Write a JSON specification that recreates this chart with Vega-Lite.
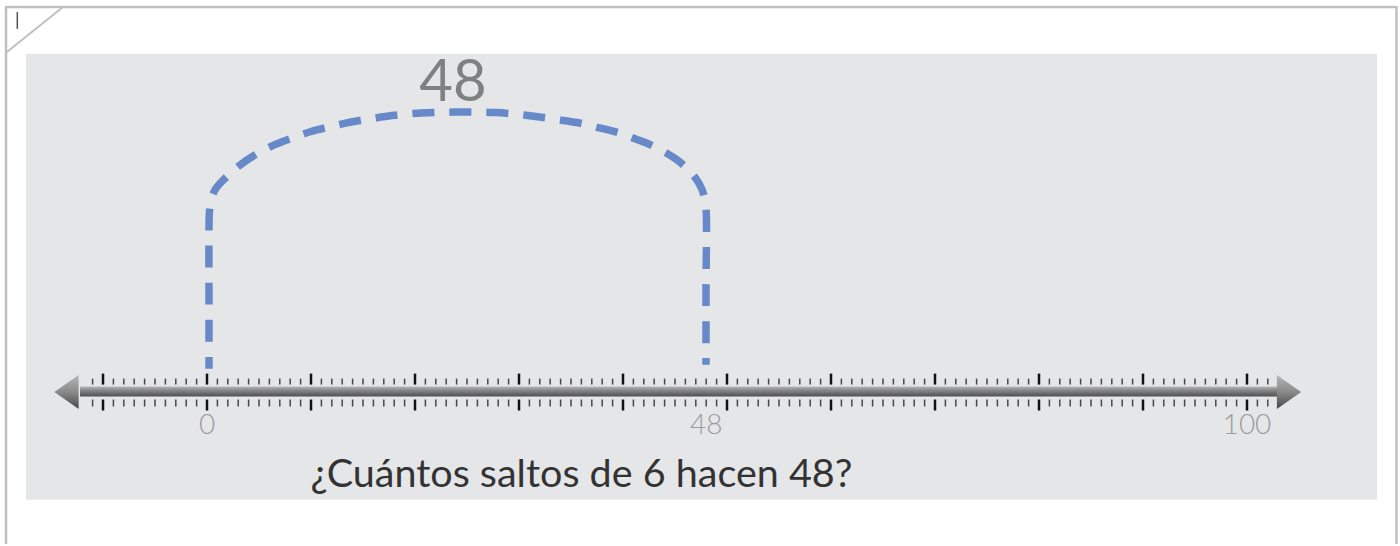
{
  "$schema": "https://vega.github.io/schema/vega-lite/v6.json",
  "width": 1400,
  "height": 546,
  "autosize": {"type": "fit", "contains": "padding"},
  "padding": 0,
  "background": "white",
  "config": {"view": {"stroke": null}},
  "datasets": {
    "minor": [
      {"v": -11}, {"v": -9}, {"v": -8}, {"v": -7}, {"v": -6}, {"v": -5}, {"v": -4}, {"v": -3}, {"v": -2}, {"v": -1},
      {"v": 1}, {"v": 2}, {"v": 3}, {"v": 4}, {"v": 5}, {"v": 6}, {"v": 7}, {"v": 8}, {"v": 9},
      {"v": 11}, {"v": 12}, {"v": 13}, {"v": 14}, {"v": 15}, {"v": 16}, {"v": 17}, {"v": 18}, {"v": 19},
      {"v": 21}, {"v": 22}, {"v": 23}, {"v": 24}, {"v": 25}, {"v": 26}, {"v": 27}, {"v": 28}, {"v": 29},
      {"v": 31}, {"v": 32}, {"v": 33}, {"v": 34}, {"v": 35}, {"v": 36}, {"v": 37}, {"v": 38}, {"v": 39},
      {"v": 41}, {"v": 42}, {"v": 43}, {"v": 44}, {"v": 45}, {"v": 46}, {"v": 47}, {"v": 48}, {"v": 49},
      {"v": 51}, {"v": 52}, {"v": 53}, {"v": 54}, {"v": 55}, {"v": 56}, {"v": 57}, {"v": 58}, {"v": 59},
      {"v": 61}, {"v": 62}, {"v": 63}, {"v": 64}, {"v": 65}, {"v": 66}, {"v": 67}, {"v": 68}, {"v": 69},
      {"v": 71}, {"v": 72}, {"v": 73}, {"v": 74}, {"v": 75}, {"v": 76}, {"v": 77}, {"v": 78}, {"v": 79},
      {"v": 81}, {"v": 82}, {"v": 83}, {"v": 84}, {"v": 85}, {"v": 86}, {"v": 87}, {"v": 88}, {"v": 89},
      {"v": 91}, {"v": 92}, {"v": 93}, {"v": 94}, {"v": 95}, {"v": 96}, {"v": 97}, {"v": 98}, {"v": 99},
      {"v": 101}, {"v": 102}
    ],
    "major": [
      {"v": -10}, {"v": 0}, {"v": 10}, {"v": 20}, {"v": 30}, {"v": 40}, {"v": 50}, {"v": 60}, {"v": 70}, {"v": 80}, {"v": 90}, {"v": 100}
    ],
    "labels": [
      {"v": 0, "t": "0"}, {"v": 48, "t": "48"}, {"v": 100, "t": "100"}
    ],
    "arc": [
      {"i": 0, "x": 0.192, "y": 24},
      {"i": 1, "x": 0.192, "y": 94},
      {"i": 2, "x": 0.192, "y": 164},
      {"i": 3, "x": 0.240, "y": 182},
      {"i": 4, "x": 0.433, "y": 195},
      {"i": 5, "x": 0.865, "y": 205},
      {"i": 6, "x": 1.538, "y": 213},
      {"i": 7, "x": 2.885, "y": 226},
      {"i": 8, "x": 4.519, "y": 238},
      {"i": 9, "x": 6.154, "y": 247},
      {"i": 10, "x": 8.077, "y": 255},
      {"i": 11, "x": 10.0, "y": 262},
      {"i": 12, "x": 11.923, "y": 267},
      {"i": 13, "x": 13.846, "y": 271.5},
      {"i": 14, "x": 15.865, "y": 275},
      {"i": 15, "x": 17.788, "y": 278},
      {"i": 16, "x": 19.808, "y": 280},
      {"i": 17, "x": 21.827, "y": 281},
      {"i": 18, "x": 23.75, "y": 281.5},
      {"i": 19, "x": 25.769, "y": 281.5},
      {"i": 20, "x": 27.692, "y": 281},
      {"i": 21, "x": 29.712, "y": 279.5},
      {"i": 22, "x": 31.635, "y": 277},
      {"i": 23, "x": 33.654, "y": 274},
      {"i": 24, "x": 35.577, "y": 271},
      {"i": 25, "x": 37.596, "y": 266},
      {"i": 26, "x": 39.519, "y": 261},
      {"i": 27, "x": 41.346, "y": 254},
      {"i": 28, "x": 43.173, "y": 246},
      {"i": 29, "x": 45.0, "y": 235},
      {"i": 30, "x": 46.442, "y": 222},
      {"i": 31, "x": 47.308, "y": 210},
      {"i": 32, "x": 47.788, "y": 198},
      {"i": 33, "x": 47.981, "y": 185},
      {"i": 34, "x": 47.981, "y": 104},
      {"i": 35, "x": 47.981, "y": 28}
    ]
  },
  "layer": [
    {
      "data": {"values": [{}]},
      "mark": {"type": "rect", "color": "#e5e6e8"},
      "encoding": {
        "x": {"datum": -17.404, "type": "quantitative", "scale": {"domain": [-19.904, 114.712], "nice": false, "zero": false}, "axis": null},
        "x2": {"datum": 112.5},
        "y": {"datum": 340, "type": "quantitative", "scale": {"domain": [-152, 394], "nice": false, "zero": false}, "axis": null},
        "y2": {"datum": -107.7}
      }
    },
    {
      "data": {"values": [{}]},
      "mark": {"type": "rule", "stroke": "#c0c0c0", "strokeWidth": 2.5},
      "encoding": {
        "x": {"datum": -19.327, "type": "quantitative", "scale": {"domain": [-19.904, 114.712], "nice": false, "zero": false}, "axis": null},
        "x2": {"datum": 114.375},
        "y": {"datum": 387, "type": "quantitative", "scale": {"domain": [-152, 394], "nice": false, "zero": false}, "axis": null},
        "y2": {"datum": 387}
      }
    },
    {
      "data": {"values": [{}]},
      "mark": {"type": "rule", "stroke": "#c0c0c0", "strokeWidth": 2.5},
      "encoding": {
        "x": {"datum": -19.327, "type": "quantitative", "scale": {"domain": [-19.904, 114.712], "nice": false, "zero": false}, "axis": null},
        "x2": {"datum": -19.327},
        "y": {"datum": 388, "type": "quantitative", "scale": {"domain": [-152, 394], "nice": false, "zero": false}, "axis": null},
        "y2": {"datum": -152}
      }
    },
    {
      "data": {"values": [{}]},
      "mark": {"type": "rule", "stroke": "#c0c0c0", "strokeWidth": 2.5},
      "encoding": {
        "x": {"datum": 114.375, "type": "quantitative", "scale": {"domain": [-19.904, 114.712], "nice": false, "zero": false}, "axis": null},
        "x2": {"datum": 114.375},
        "y": {"datum": 388, "type": "quantitative", "scale": {"domain": [-152, 394], "nice": false, "zero": false}, "axis": null},
        "y2": {"datum": -152}
      }
    },
    {
      "data": {"values": [{}]},
      "mark": {"type": "rule", "stroke": "#c0c0c0", "strokeWidth": 2},
      "encoding": {
        "x": {"datum": -19.327, "type": "quantitative", "scale": {"domain": [-19.904, 114.712], "nice": false, "zero": false}, "axis": null},
        "x2": {"datum": -13.846},
        "y": {"datum": 341, "type": "quantitative", "scale": {"domain": [-152, 394], "nice": false, "zero": false}, "axis": null},
        "y2": {"datum": 387}
      }
    },
    {
      "data": {"values": [{}]},
      "mark": {"type": "rule", "stroke": "#555555", "strokeWidth": 1.5},
      "encoding": {
        "x": {"datum": -18.24, "type": "quantitative", "scale": {"domain": [-19.904, 114.712], "nice": false, "zero": false}, "axis": null},
        "x2": {"datum": -18.24},
        "y": {"datum": 382, "type": "quantitative", "scale": {"domain": [-152, 394], "nice": false, "zero": false}, "axis": null},
        "y2": {"datum": 365}
      }
    },
    {
      "data": {"values": [{}]},
      "mark": {
        "type": "rect",
        "color": {"gradient": "linear", "x1": 0, "y1": 0, "x2": 0, "y2": 1,
          "stops": [{"offset": 0, "color": "#b8b8b8"}, {"offset": 0.3, "color": "#8e8e8e"}, {"offset": 1, "color": "#4e4e4e"}]}
      },
      "encoding": {
        "x": {"datum": -12.212, "type": "quantitative", "scale": {"domain": [-19.904, 114.712], "nice": false, "zero": false}, "axis": null},
        "x2": {"datum": 103.56},
        "y": {"datum": 6, "type": "quantitative", "scale": {"domain": [-152, 394], "nice": false, "zero": false}, "axis": null},
        "y2": {"datum": -4}
      }
    },
    {
      "data": {"values": [{}]},
      "mark": {
        "type": "point", "filled": true, "opacity": 1, "strokeWidth": 0, "size": 1156,
        "shape": "M-0.714,0L0.714,-1L0.714,1Z",
        "fill": {"gradient": "linear", "x1": 0, "y1": 0, "x2": 0, "y2": 1,
          "stops": [{"offset": 0, "color": "#b5b5b5"}, {"offset": 0.5, "color": "#8a8a8a"}, {"offset": 1, "color": "#474747"}]}
      },
      "encoding": {
        "x": {"datum": -13.51, "type": "quantitative", "scale": {"domain": [-19.904, 114.712], "nice": false, "zero": false}, "axis": null},
        "y": {"datum": 0.5, "type": "quantitative", "scale": {"domain": [-152, 394], "nice": false, "zero": false}, "axis": null}
      }
    },
    {
      "data": {"values": [{}]},
      "mark": {
        "type": "point", "filled": true, "opacity": 1, "strokeWidth": 0, "size": 1156,
        "shape": "M0.714,0L-0.714,-1L-0.714,1Z",
        "fill": {"gradient": "linear", "x1": 0, "y1": 0, "x2": 0, "y2": 1,
          "stops": [{"offset": 0, "color": "#b5b5b5"}, {"offset": 0.5, "color": "#8a8a8a"}, {"offset": 1, "color": "#474747"}]}
      },
      "encoding": {
        "x": {"datum": 104.04, "type": "quantitative", "scale": {"domain": [-19.904, 114.712], "nice": false, "zero": false}, "axis": null},
        "y": {"datum": 0.5, "type": "quantitative", "scale": {"domain": [-152, 394], "nice": false, "zero": false}, "axis": null}
      }
    },
    {
      "data": {"name": "minor"},
      "mark": {"type": "rule", "stroke": "#474747", "strokeWidth": 1.5},
      "encoding": {
        "x": {"field": "v", "type": "quantitative", "scale": {"domain": [-19.904, 114.712], "nice": false, "zero": false}, "axis": null},
        "y": {"datum": 14, "type": "quantitative", "scale": {"domain": [-152, 394], "nice": false, "zero": false}, "axis": null},
        "y2": {"datum": 8}
      }
    },
    {
      "data": {"name": "minor"},
      "mark": {"type": "rule", "stroke": "#474747", "strokeWidth": 1.5},
      "encoding": {
        "x": {"field": "v", "type": "quantitative", "scale": {"domain": [-19.904, 114.712], "nice": false, "zero": false}, "axis": null},
        "y": {"datum": -7, "type": "quantitative", "scale": {"domain": [-152, 394], "nice": false, "zero": false}, "axis": null},
        "y2": {"datum": -14}
      }
    },
    {
      "data": {"name": "major"},
      "mark": {"type": "rule", "stroke": "#111111", "strokeWidth": 2.5},
      "encoding": {
        "x": {"field": "v", "type": "quantitative", "scale": {"domain": [-19.904, 114.712], "nice": false, "zero": false}, "axis": null},
        "y": {"datum": 19, "type": "quantitative", "scale": {"domain": [-152, 394], "nice": false, "zero": false}, "axis": null},
        "y2": {"datum": 8}
      }
    },
    {
      "data": {"name": "major"},
      "mark": {"type": "rule", "stroke": "#111111", "strokeWidth": 2.5},
      "encoding": {
        "x": {"field": "v", "type": "quantitative", "scale": {"domain": [-19.904, 114.712], "nice": false, "zero": false}, "axis": null},
        "y": {"datum": -7, "type": "quantitative", "scale": {"domain": [-152, 394], "nice": false, "zero": false}, "axis": null},
        "y2": {"datum": -18}
      }
    },
    {
      "data": {"name": "labels"},
      "mark": {"type": "text", "font": "Lato", "fontSize": 28, "fontWeight": 300, "color": "#9b9b9b", "baseline": "middle", "align": "center"},
      "encoding": {
        "x": {"field": "v", "type": "quantitative", "scale": {"domain": [-19.904, 114.712], "nice": false, "zero": false}, "axis": null},
        "y": {"datum": -34, "type": "quantitative", "scale": {"domain": [-152, 394], "nice": false, "zero": false}, "axis": null},
        "text": {"field": "t"}
      }
    },
    {
      "data": {"name": "arc"},
      "mark": {"type": "line", "interpolate": "catmull-rom", "color": "#6789c9", "strokeWidth": 7.5, "strokeDash": [22, 15], "strokeDashOffset": 10, "strokeCap": "butt"},
      "encoding": {
        "x": {"field": "x", "type": "quantitative", "scale": {"domain": [-19.904, 114.712], "nice": false, "zero": false}, "axis": null},
        "y": {"field": "y", "type": "quantitative", "scale": {"domain": [-152, 394], "nice": false, "zero": false}, "axis": null},
        "order": {"field": "i", "type": "quantitative"}
      }
    },
    {
      "data": {"values": [{}]},
      "mark": {"type": "text", "text": "48", "font": "Lato", "fontSize": 58, "color": "#808080", "baseline": "middle", "align": "center"},
      "encoding": {
        "x": {"datum": 23.65, "type": "quantitative", "scale": {"domain": [-19.904, 114.712], "nice": false, "zero": false}, "axis": null},
        "y": {"datum": 310, "type": "quantitative", "scale": {"domain": [-152, 394], "nice": false, "zero": false}, "axis": null}
      }
    },
    {
      "data": {"values": [{}]},
      "mark": {"type": "text", "text": "¿Cuántos saltos de 6 hacen 48?", "font": "Lato", "fontSize": 39.5, "color": "#333333", "baseline": "alphabetic", "align": "center"},
      "encoding": {
        "x": {"datum": 36.0, "type": "quantitative", "scale": {"domain": [-19.904, 114.712], "nice": false, "zero": false}, "axis": null},
        "y": {"datum": -95, "type": "quantitative", "scale": {"domain": [-152, 394], "nice": false, "zero": false}, "axis": null}
      }
    }
  ]
}
